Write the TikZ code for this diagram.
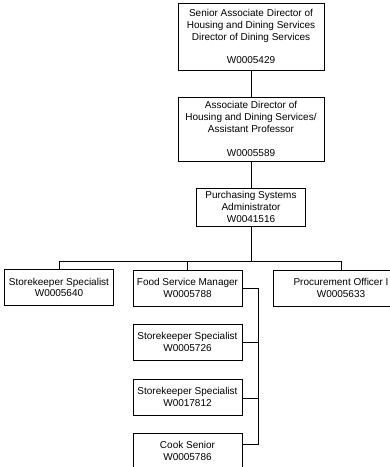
\documentclass[tikz,border=0pt]{standalone}
\usepackage{fontspec}
\setmainfont{Liberation Sans}
\tikzset{
  post/.style={draw, align=center, inner sep=2pt, minimum width=109pt, minimum height=36pt, font=\fontsize{10}{11.8}\selectfont},
  link/.style={line width=0.6pt}
}
\begin{document}
\begin{tikzpicture}[x=1pt,y=-1pt,line width=0.6pt]
\useasboundingbox (0,0) rectangle (390,467);
% Directors
\node[post, minimum width=146pt, minimum height=67pt] (sad) at (251,36.5)
  {Senior Associate Director of\\Housing and Dining Services\\Director of Dining Services\\[11.8pt]W0005429};
\node[post, minimum width=146pt, minimum height=64pt] (ad) at (251,129)
  {Associate Director of\\Housing and Dining Services/\\Assistant Professor\\[11.8pt]W0005589};
\node[post, minimum height=38pt] (psa) at (251,207) {Purchasing Systems\\Administrator\\W0041516};
% Second row
\node[post] (sk1) at (59,287.5) {Storekeeper Specialist\\W0005640};
\node[post] (fsm) at (187.5,288) {Food Service Manager\\W0005788};
\node[post, minimum width=136pt] (po) at (341,288) {Procurement Officer I\\W0005633};
% Under the manager
\node[post] (sk2) at (187.5,342) {Storekeeper Specialist\\W0005726};
\node[post] (sk3) at (187.5,397) {Storekeeper Specialist\\W0017812};
\node[post] (cook) at (187.5,451) {Cook Senior\\W0005786};
% Lines
\coordinate (bus) at (251,261);
\coordinate (rail) at (258,288);
\draw[link] (sad) -- (ad);
\draw[link] (ad) -- (psa);
\draw[link] (psa) -- (bus);
\draw[link] (bus) -| (sk1.north);
\draw[link] (bus) -| (fsm.north);
\draw[link] (bus) -| (po.north);
\draw[link] (fsm.east) -- (rail) |- ([yshift=7pt]cook.east);
\draw[link] (sk2.east) -- (sk2.east -| rail);
\draw[link] ([yshift=-1pt]sk3.east) -- ([yshift=-1pt]sk3.east -| rail);
\end{tikzpicture}
\end{document}
